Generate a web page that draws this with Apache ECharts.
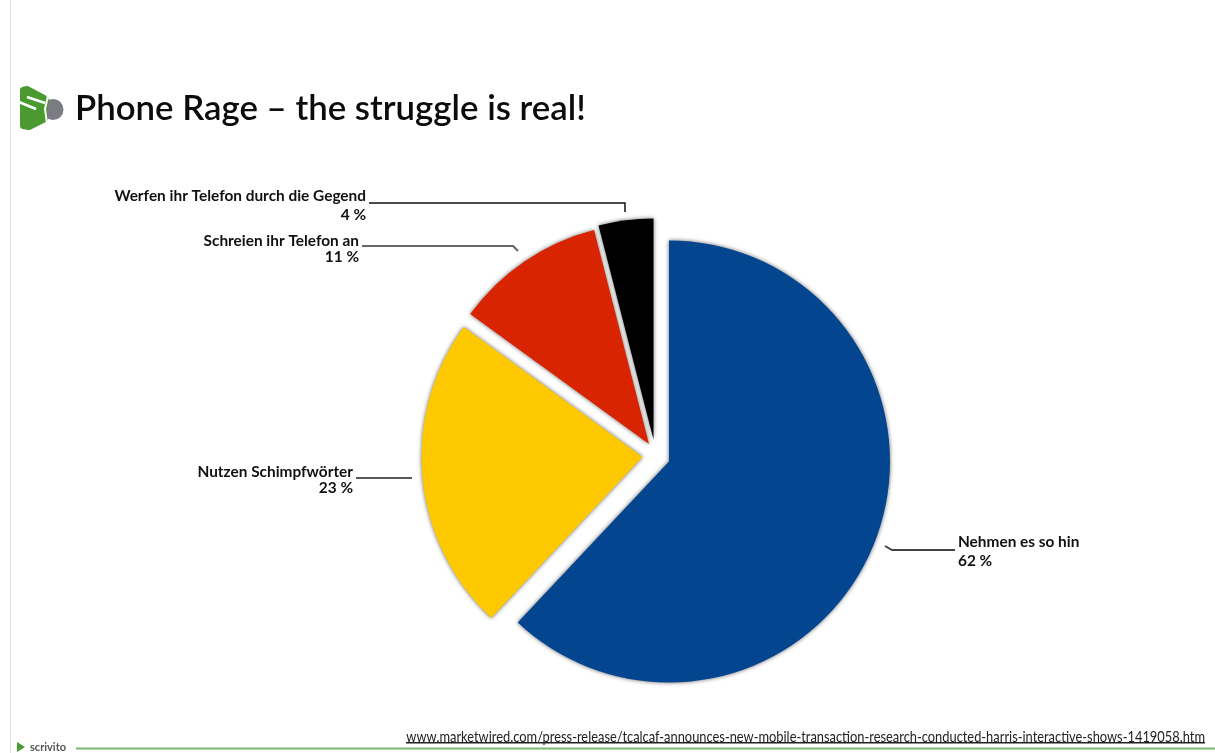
<!DOCTYPE html>
<html lang="de">
<head>
<meta charset="utf-8">
<title>Phone Rage</title>
<script src="https://cdn.jsdelivr.net/npm/echarts@6/dist/echarts.min.js"></script>
<style>
  html, body { margin: 0; padding: 0; background: #fff; }
  #chart { width: 1215px; height: 753px; }
</style>
</head>
<body>
<div id="chart"></div>
<script>
// Survey answers, in clockwise order from twelve o'clock
const categories = ['Nehmen es so hin', 'Nutzen Schimpfwörter', 'Schreien ihr Telefon an', 'Werfen ihr Telefon durch die Gegend'];
const shares = [62, 23, 11, 4];
const sliceColors = ['#03458f', '#fec900', '#d82400', '#000000'];

const titleText = 'Phone Rage – the struggle is real!';
const sourceText = 'www.marketwired.com/press-release/tcalcaf-announces-new-mobile-transaction-research-conducted-harris-interactive-shows-1419058.htm';
const brandText = 'scrivito';

// Each slice is pulled out by its own amount, so each gets its own pie centre
const sliceCentres = [[669, 461.5], [642.5, 457], [649, 444], [653.5, 439.5]];
const PIE_RADIUS = 221;

// Callout placement per slice: text anchor, alignment, leader polyline and its stroke
const callouts = [
  { x: 958, y: 552, align: 'left', lineHeight: 19, stroke: '#444', width: 2, points: [[885, 546], [892, 550], [955, 550]] },
  { x: 353, y: 480.5, align: 'right', lineHeight: 16, stroke: '#222', width: 1.5, points: [[412, 478], [384, 478], [356, 478]] },
  { x: 359, y: 249.5, align: 'right', lineHeight: 16, stroke: '#666', width: 2, points: [[518, 251], [513, 246], [362, 246]] },
  { x: 366, y: 206, align: 'right', lineHeight: 19, stroke: '#111', width: 1.5, points: [[625, 212], [625, 203], [369, 203]] }
];

const LABEL_FONT = 'Lato, "Open Sans", sans-serif';

// One pie per slice: all pies share the same angles, only one slice in each is painted
const pies = shares.map((_, visible) => ({
  type: 'pie',
  center: sliceCentres[visible],
  radius: PIE_RADIUS,
  startAngle: 90,
  clockwise: true,
  animation: false,
  silent: true,
  avoidLabelOverlap: false,
  z: 2,
  labelLayout: (params) => {
    if (params.dataIndex !== visible) return {};
    const c = callouts[visible];
    return { x: c.x, y: c.y, align: c.align, verticalAlign: 'middle', labelLinePoints: c.points };
  },
  data: categories.map((name, i) => {
    const on = i === visible;
    return {
      name,
      value: shares[i],
      itemStyle: on
        ? { color: sliceColors[i], shadowBlur: 4, shadowColor: 'rgba(0,0,0,0.6)' }
        : { color: 'rgba(0,0,0,0)' },
      label: on
        ? {
            show: true,
            formatter: '{b}\n{c} %',
            color: '#111',
            fontFamily: LABEL_FONT,
            fontWeight: 700,
            fontSize: 15.4,
            lineHeight: callouts[i].lineHeight,
            align: callouts[i].align
          }
        : { show: false },
      labelLine: on
        ? { show: true, lineStyle: { color: callouts[i].stroke, width: callouts[i].width } }
        : { show: false }
    };
  })
}));

const chart = echarts.init(document.getElementById('chart'), null, { renderer: 'canvas' });
chart.setOption({
  backgroundColor: '#ffffff',
  animation: false,
  title: {
    text: titleText,
    left: 70,
    top: 86,
    textStyle: { fontFamily: LABEL_FONT, fontSize: 34.8, fontWeight: 600, color: '#0c0c0c' }
  },
  series: pies,
  graphic: [
    // Page edge
    { type: 'rect', shape: { x: 10, y: 0, width: 1, height: 753 }, style: { fill: '#e4e4e4' } },
    // Brand mark beside the heading: grey lens behind a rounded green play shape
    { type: 'circle', shape: { cx: 53, cy: 109.5, r: 10.5 }, style: { fill: '#7c7c84' } },
    {
      type: 'polygon',
      shape: { points: [[23, 90], [27, 89], [44, 98], [46, 100], [44, 110], [45, 119], [29, 127], [23, 126]] },
      style: { fill: '#4a9a2f', stroke: '#4a9a2f', lineWidth: 6, lineJoin: 'round' }
    },
    { type: 'polyline', shape: { points: [[48, 96], [45, 109], [47, 123]] }, style: { fill: 'none', stroke: '#ffffff', lineWidth: 2 } },
    { type: 'line', shape: { x1: 27, y1: 97, x2: 45, y2: 103 }, style: { stroke: '#ffffff', lineWidth: 2.5 } },
    { type: 'line', shape: { x1: 19, y1: 102, x2: 36, y2: 109 }, style: { stroke: '#ffffff', lineWidth: 2.5 } },
    // Footer
    { type: 'polygon', shape: { points: [[17, 742], [25, 747], [17, 752]] }, style: { fill: '#4a9a2f' } },
    { type: 'text', style: { x: 30, y: 747, text: brandText, fill: '#555', font: '700 11px Lato, sans-serif', verticalAlign: 'middle' } },
    { type: 'rect', shape: { x: 76, y: 747.5, width: 1139, height: 2 }, style: { fill: '#77b76a' } },
    {
      type: 'text',
      originX: 1205,
      scaleX: 0.82,
      style: { x: 1205, y: 737, text: sourceText, fill: '#222', align: 'right', verticalAlign: 'middle', font: '15.7px Lato, sans-serif' }
    },
    { type: 'rect', shape: { x: 406, y: 742, width: 799, height: 1.5 }, style: { fill: '#222' } }
  ]
});
</script>
</body>
</html>
